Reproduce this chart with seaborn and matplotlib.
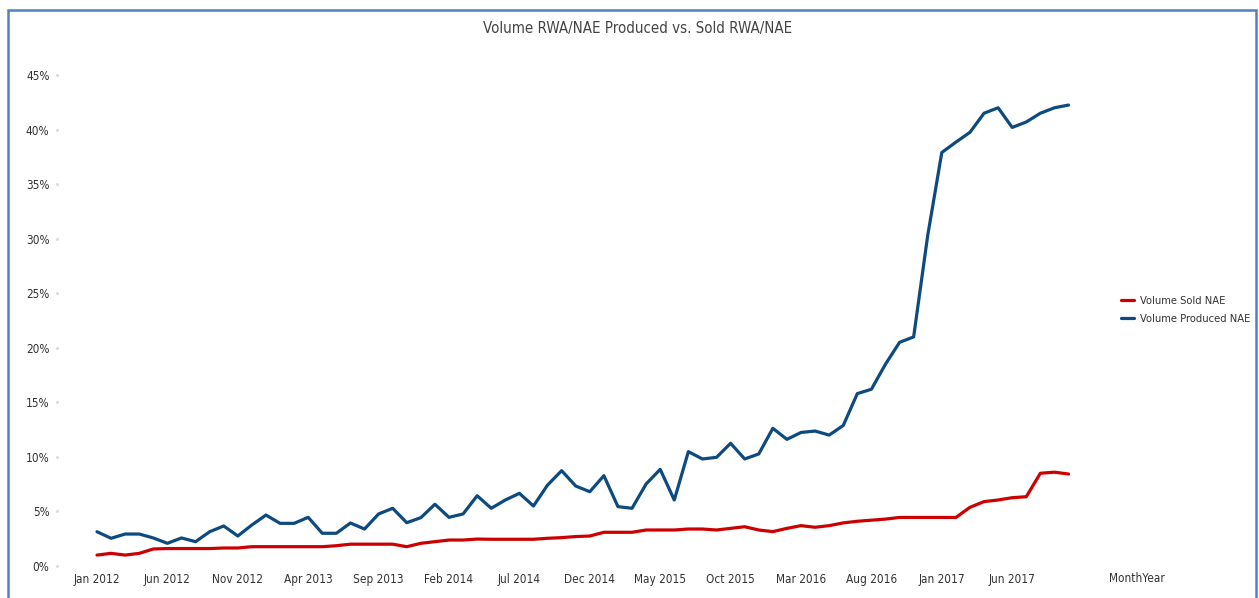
import numpy as np
import pandas as pd
import matplotlib
matplotlib.use("Agg")
import matplotlib.pyplot as plt
from matplotlib.patches import Rectangle
from matplotlib.lines import Line2D
import seaborn as sns

# ---------------- data ----------------
months = pd.date_range("2012-01-01", periods=70, freq="MS").strftime("%b %Y").tolist()

sold_nae = [1.0, 1.16, 1.0, 1.16, 1.56, 1.6, 1.6, 1.6, 1.6, 1.65,
            1.65, 1.77, 1.77, 1.77, 1.77, 1.77, 1.77, 1.86, 2.0, 2.0,
            2.0, 2.0, 1.77, 2.08, 2.23, 2.38, 2.38, 2.47, 2.45, 2.45,
            2.45, 2.45, 2.54, 2.6, 2.7, 2.75, 3.09, 3.09, 3.09, 3.3,
            3.3, 3.3, 3.39, 3.39, 3.3, 3.45, 3.6, 3.3, 3.15, 3.45,
            3.7, 3.55, 3.7, 3.95, 4.1, 4.2, 4.3, 4.45, 4.45, 4.45,
            4.45, 4.45, 5.38, 5.9, 6.05, 6.26, 6.35, 8.5, 8.6, 8.43]

produced_nae = [3.14, 2.54, 2.93, 2.93, 2.57, 2.08, 2.57, 2.23, 3.14, 3.67,
                2.75, 3.76, 4.67, 3.91, 3.91, 4.46, 3.0, 3.0, 3.94, 3.39,
                4.77, 5.29, 3.97, 4.43, 5.66, 4.46, 4.77, 6.44, 5.29, 6.05,
                6.66, 5.5, 7.42, 8.74, 7.33, 6.81, 8.28, 5.44, 5.29, 7.52,
                8.86, 6.05, 10.48, 9.81, 9.96, 11.25, 9.81, 10.27, 12.62, 11.61,
                12.24, 12.37, 12.0, 12.88, 15.8, 16.2, 18.5, 20.5, 21.0, 30.3,
                37.9, 38.85, 39.75, 41.5, 42.0, 40.2, 40.7, 41.5, 42.0, 42.25]

series_names = ["Volume Sold NAE", "Volume Produced NAE"]
series_colors = ["#cc0000", "#0d4a80"]

tick_labels = ["Jan 2012", "Jun 2012", "Nov 2012", "Apr 2013", "Sep 2013",
               "Feb 2014", "Jul 2014", "Dec 2014", "May 2015", "Oct 2015",
               "Mar 2016", "Aug 2016", "Jan 2017", "Jun 2017"]
y_ticks = [0, 5, 10, 15, 20, 25, 30, 35, 40, 45]

title = "Volume RWA/NAE Produced vs. Sold RWA/NAE"
x_title = "MonthYear"

# ---------------- style ----------------
sns.set_theme(style="white")
plt.rcParams["font.family"] = ["DejaVu Sans"]
plt.rcParams["font.stretch"] = "condensed"

W, H = 1259, 598
fig = plt.figure(figsize=(W / 100, H / 100), dpi=100)
fig.patch.set_facecolor("white")

# axes placement in pixels
ax_left, ax_right = 60, 1100
ax_bottom_px, ax_top_px = 566, 58
ax = fig.add_axes([ax_left / W, 1 - ax_bottom_px / H,
                   (ax_right - ax_left) / W, (ax_bottom_px - ax_top_px) / H])

df = pd.DataFrame({
    "idx": list(range(len(months))) * 2,
    "month": months * 2,
    "value": sold_nae + produced_nae,
    "series": [series_names[0]] * len(months) + [series_names[1]] * len(months),
})

sns.lineplot(data=df, x="idx", y="value", hue="series", hue_order=series_names,
             palette=series_colors, linewidth=2.3, ax=ax, legend=False,
             estimator=None, sort=False)

px_per_month = 14.08
x0_px = 97
ax.set_xlim((ax_left - x0_px) / px_per_month, (ax_right - x0_px) / px_per_month)
ax.set_ylim(0, (ax_bottom_px - ax_top_px) / 10.91)

tick_pos = [months.index(t) for t in tick_labels]
ax.set_xticks(tick_pos)
ax.set_xticklabels(tick_labels)
ax.set_yticks(y_ticks)
ax.set_yticklabels([f"{v}%" for v in y_ticks])
ax.tick_params(axis="both", length=0, labelsize=8.5, colors="#333333")
ax.tick_params(axis="y", pad=7.5)
ax.tick_params(axis="x", pad=5)
ax.set_xlabel("")
ax.set_ylabel("")
for s in ax.spines.values():
    s.set_visible(False)
ax.grid(False)
ax.set_facecolor("none")

# tiny tick dots next to y labels
for v in y_ticks:
    ax.plot([(ax_left - x0_px - 3) / px_per_month], [v], marker="o", ms=1.2,
            color="#dddddd", clip_on=False)

# title
fig.text(638 / W, 1 - 28 / H, title, ha="center", va="center",
         fontsize=10.8, color="#444444")
# axis title
fig.text(1109 / W, 1 - 578 / H, x_title, ha="left", va="center",
         fontsize=8.5, color="#333333")

# legend
handles = [Line2D([0], [0], color=c, lw=2.3) for c in series_colors]
leg = fig.legend(handles, series_names, loc="center left",
                 bbox_to_anchor=(1118 / W, 1 - 310 / H), frameon=False,
                 fontsize=8.0, handlelength=1.1, handletextpad=0.6,
                 labelspacing=0.75, borderaxespad=0, borderpad=0.3)
for t in leg.get_texts():
    t.set_color("#333333")

# frame border
fig.patches.append(Rectangle((8 / W, -0.05), (1256 - 8) / W, 1.05 - 10 / H,
                             transform=fig.transFigure, fill=False,
                             edgecolor="#4f81bd", linewidth=1.8, zorder=0))

fig.savefig("out.png", dpi=100, facecolor="white")
